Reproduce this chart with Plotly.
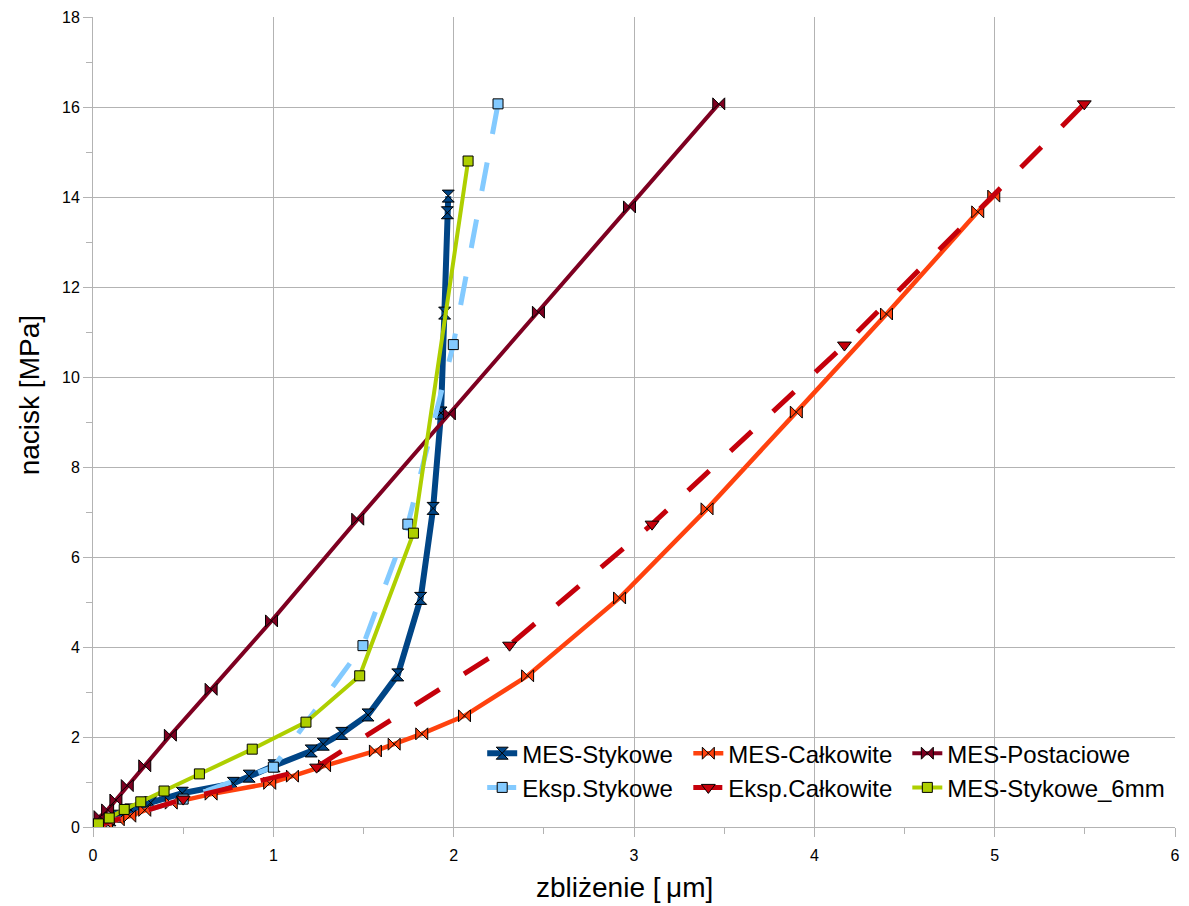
import plotly.graph_objects as go

# ---------------- data ----------------
mes_styk_x = [0, 0.03, 0.048, 0.094, 0.14, 0.21, 0.32, 0.495, 0.778, 0.866, 1.004, 1.21, 1.277, 1.38, 1.525, 1.69, 1.817, 1.886, 1.93, 1.95, 1.965, 1.97]
mes_styk_y = [0, 0.04, 0.08, 0.16, 0.24, 0.38, 0.54, 0.75, 0.97, 1.13, 1.36, 1.69, 1.84, 2.08, 2.49, 3.38, 5.08, 7.08, 9.20, 11.42, 13.65, 14.02]

mes_calk_x = [0, 0.04, 0.075, 0.14, 0.204, 0.287, 0.434, 0.655, 0.98, 1.106, 1.284, 1.566, 1.67, 1.823, 2.06, 2.41, 2.92, 3.405, 3.90, 4.40, 4.906, 4.995]
mes_calk_y = [0, 0.04, 0.08, 0.16, 0.24, 0.37, 0.53, 0.73, 0.97, 1.13, 1.36, 1.69, 1.84, 2.07, 2.47, 3.36, 5.09, 7.07, 9.22, 11.40, 13.67, 14.02]

mes_post_x = [0, 0.02, 0.039, 0.081, 0.127, 0.19, 0.287, 0.429, 0.655, 0.99, 1.468, 1.976, 2.47, 2.975, 3.47]
mes_post_y = [0, 0.10, 0.23, 0.38, 0.60, 0.92, 1.36, 2.04, 3.06, 4.58, 6.84, 9.18, 11.44, 13.78, 16.07]

eksp_styk_x = [0, 0.50, 1.00, 1.497, 1.746, 1.998, 2.246]
eksp_styk_y = [0, 0.62, 1.33, 4.03, 6.73, 10.72, 16.07]

eksp_calk_x = [0, 0.50, 1.24, 2.31, 3.10, 4.167, 5.497]
eksp_calk_y = [0, 0.62, 1.33, 4.04, 6.73, 10.71, 16.07]

mes_6mm_x = [0, 0.03, 0.09, 0.173, 0.265, 0.394, 0.59, 0.883, 1.181, 1.479, 1.777, 2.08]
mes_6mm_y = [0, 0.07, 0.20, 0.39, 0.56, 0.80, 1.18, 1.73, 2.33, 3.36, 6.53, 14.80]

x_ticks = [0, 1, 2, 3, 4, 5, 6]
y_ticks = [0, 2, 4, 6, 8, 10, 12, 14, 16, 18]

FONT = "Liberation Sans, Arial, sans-serif"
GRID = "#b3b3b3"

fig = go.Figure()

def add(name, x, y, color, width, symbol, size, legend, dash="solid"):
    fig.add_trace(go.Scatter(
        x=x, y=y, name=name, mode="lines+markers",
        line=dict(color=color, width=width, dash=dash),
        marker=dict(symbol=symbol, size=size, color=color,
                    line=dict(color="#000000", width=1)),
        legend=legend,
    ))

DASH = "29px,29px"
add("MES-Stykowe", mes_styk_x, mes_styk_y, "#004586", 6, "hourglass", 12, "legend")
add("MES-Całkowite", mes_calk_x, mes_calk_y, "#ff420e", 4.5, "bowtie", 12, "legend2")
add("MES-Postaciowe", mes_post_x, mes_post_y, "#7e0021", 4, "bowtie", 12, "legend3")
add("Eksp.Stykowe", eksp_styk_x, eksp_styk_y, "#83caff", 5, "square", 10, "legend", DASH)
add("Eksp.Całkowite", eksp_calk_x, eksp_calk_y, "#c5000b", 5, "triangle-down", 12, "legend2", DASH)
add("MES-Stykowe_6mm", mes_6mm_x, mes_6mm_y, "#aecf00", 4, "square", 10, "legend3")

leg_common = dict(orientation="v", yanchor="top", xanchor="left", y=0.1184,
                  bgcolor="rgba(0,0,0,0)", borderwidth=0,
                  font=dict(family=FONT, size=24, color="#000000"),
                  itemwidth=30, tracegroupgap=0)

fig.update_layout(
    width=1189, height=906,
    margin=dict(l=93, r=9, t=17, b=79),
    paper_bgcolor="white", plot_bgcolor="white",
    font=dict(family=FONT, color="#000000"),
    showlegend=True,
    legend=dict(x=0.3597, **leg_common),
    legend2=dict(x=0.5502, **leg_common),
    legend3=dict(x=0.7526, **leg_common),
    xaxis=dict(range=[0, 6], tickvals=x_ticks, ticktext=[str(v) for v in x_ticks],
               showgrid=True, gridcolor=GRID, gridwidth=1,
               showline=True, linecolor=GRID, linewidth=1,
               ticks="outside", ticklen=9, tickcolor=GRID, ticklabelstandoff=5,
               minor=dict(ticks="outside", ticklen=6, dtick=0.5, tickcolor=GRID, showgrid=False),
               tickfont=dict(family=FONT, size=16, color="#000000"),
               zeroline=False, fixedrange=True),
    yaxis=dict(range=[0, 18], tickvals=y_ticks, ticktext=[str(v) for v in y_ticks],
               showgrid=True, gridcolor=GRID, gridwidth=1,
               showline=True, linecolor=GRID, linewidth=1,
               ticks="outside", ticklen=9, tickcolor=GRID,
               minor=dict(ticks="outside", ticklen=6, dtick=1, tickcolor=GRID, showgrid=False),
               tickfont=dict(family=FONT, size=16, color="#000000"),
               zeroline=False, fixedrange=True),
    annotations=[
        dict(text="zbliżenie [\u2009μm]", xref="paper", yref="paper",
             x=0.4908, y=-0.0753, xanchor="center", yanchor="middle", showarrow=False,
             font=dict(family=FONT, size=28, color="#000000")),
        dict(text="nacisk [MPa]", xref="paper", yref="paper", textangle=-90,
             x=-0.0589, y=0.5333, xanchor="center", yanchor="middle", showarrow=False,
             font=dict(family=FONT, size=28, color="#000000")),
    ],
)

fig.write_html("out.html")
